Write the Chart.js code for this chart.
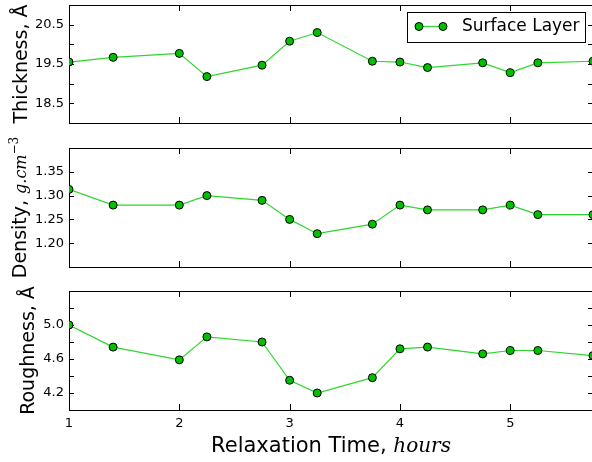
<!DOCTYPE html>
<html>
<head>
<meta charset="utf-8">
<script src="https://cdn.jsdelivr.net/npm/chart.js@4.4.1/dist/chart.umd.min.js"></script>
<style>
  html, body { margin: 0; padding: 0; background: #fff; overflow: hidden; }
  #wrap { position: relative; width: 592px; height: 462px; overflow: hidden; }
  canvas { position: absolute; left: 0; top: 0; }
</style>
</head>
<body>
<div id="wrap">
  <canvas id="c1" width="600" height="462"></canvas>
  <canvas id="c2" width="600" height="462"></canvas>
  <canvas id="c3" width="600" height="462"></canvas>
</div>
<script>
// data
const times = [1, 1.4, 2, 2.25, 2.75, 3, 3.25, 3.75, 4, 4.25, 4.75, 5, 5.25, 5.75];
const thickness = [19.55, 19.67, 19.77, 19.18, 19.47, 20.08, 20.30, 19.57, 19.55, 19.41, 19.53, 19.28, 19.53, 19.57];
const density = [1.313, 1.28, 1.28, 1.30, 1.29, 1.25, 1.22, 1.24, 1.28, 1.27, 1.27, 1.28, 1.26, 1.26];
const roughness = [5.00, 4.74, 4.59, 4.86, 4.80, 4.35, 4.20, 4.38, 4.72, 4.74, 4.66, 4.70, 4.70, 4.64];

const xTicks = [1, 2, 3, 4, 5];
const thickTicks = [18, 18.5, 19, 19.5, 20, 20.5, 21];
const thickLabels = ['18.5', '19.5', '20.5'];
const densTicks = [1.15, 1.20, 1.25, 1.30, 1.35, 1.40];
const densLabels = ['1.20', '1.25', '1.30', '1.35'];
const roughTicks = [4.0, 4.2, 4.4, 4.6, 4.8, 5.0, 5.2, 5.4];
const roughLabels = ['4.2', '4.6', '5.0'];

const LINE = '#2fd62f';
const FILL = '#00c000';
const SANS = '"DejaVu Sans"';

function points(ys) {
  return times.map((t, i) => ({ x: t, y: ys[i] }));
}

// draws runs of text with different fonts, centred on (cx, cy)
function richText(ctx, parts, cx, cy, rotate) {
  ctx.save();
  ctx.translate(cx, cy);
  if (rotate) ctx.rotate(-Math.PI / 2);
  ctx.fillStyle = '#000';
  ctx.textBaseline = 'alphabetic';
  ctx.textAlign = 'left';
  let total = 0;
  parts.forEach(p => { ctx.font = p.font; total += ctx.measureText(p.text).width; });
  let x = -total / 2;
  parts.forEach(p => {
    ctx.font = p.font;
    ctx.fillText(p.text, x, -(p.rise || 0));
    x += ctx.measureText(p.text).width;
  });
  ctx.restore();
}

// matplotlib style frame: full box, ticks pointing inward
const frame = {
  id: 'frame',
  beforeDatasetsDraw(chart) {
    const { ctx, chartArea: a, scales: { x, y } } = chart;
    ctx.save();
    ctx.strokeStyle = '#000';
    ctx.lineWidth = 1;
    ctx.beginPath();
    xTicks.forEach(v => {
      const px = Math.round(x.getPixelForValue(v)) + 0.5;
      ctx.moveTo(px, a.top); ctx.lineTo(px, a.top + 6);
      ctx.moveTo(px, a.bottom); ctx.lineTo(px, a.bottom - 6);
    });
    y.ticks.forEach(t => {
      const py = Math.round(y.getPixelForValue(t.value)) + 0.5;
      ctx.moveTo(a.left, py); ctx.lineTo(a.left + 5, py);
      ctx.moveTo(a.right, py); ctx.lineTo(a.right - 5, py);
    });
    ctx.stroke();
    ctx.strokeRect(Math.round(a.left) + 0.5, Math.round(a.top) + 0.5,
      Math.round(a.right - a.left), Math.round(a.bottom - a.top));
    ctx.restore();
  },
  afterDraw(chart, args, opts) {
    const ctx = chart.ctx;
    const a = chart.chartArea;
    const mid = (a.top + a.bottom) / 2;
    richText(ctx, opts.ytitle, opts.ytitleX, mid, true);
    if (opts.xtitle) {
      richText(ctx, opts.xtitle, (a.left + a.right) / 2, 451.5, false);
    }
    if (opts.legend) {
      ctx.save();
      ctx.fillStyle = '#fff';
      ctx.strokeStyle = '#000';
      ctx.lineWidth = 1;
      ctx.fillRect(407.5, 12.5, 178, 30);
      ctx.strokeRect(407.5, 12.5, 178, 30);
      ctx.strokeStyle = LINE;
      ctx.lineWidth = 1.2;
      ctx.beginPath();
      ctx.moveTo(419, 26.5); ctx.lineTo(443, 26.5);
      ctx.stroke();
      [419, 443].forEach(cx => {
        ctx.beginPath();
        ctx.arc(cx, 26.5, 4, 0, Math.PI * 2);
        ctx.fillStyle = FILL;
        ctx.fill();
        ctx.strokeStyle = '#000';
        ctx.lineWidth = 1;
        ctx.stroke();
      });
      ctx.fillStyle = '#000';
      ctx.font = '17px ' + SANS;
      ctx.textBaseline = 'middle';
      ctx.fillText('Surface Layer', 462, 27);
      ctx.restore();
    }
  }
};

function zeroPad(s) {
  s.paddingTop = 0; s.paddingBottom = 0; s.paddingLeft = 0; s.paddingRight = 0;
}

function makePanel(id, ys, yopts, pad, frameOpts, showX) {
  return new Chart(document.getElementById(id), {
    type: 'scatter',
    data: {
      datasets: [{
        label: 'Surface Layer',
        data: points(ys),
        showLine: true,
        borderColor: LINE,
        borderWidth: 1.2,
        pointRadius: 4,
        pointHoverRadius: 4,
        pointBackgroundColor: FILL,
        pointBorderColor: '#000',
        pointBorderWidth: 1
      }]
    },
    options: {
      responsive: false,
      animation: false,
      devicePixelRatio: 1,
      events: [],
      layout: { padding: pad },
      plugins: { legend: { display: false }, tooltip: { enabled: false }, frame: frameOpts },
      scales: {
        x: {
          type: 'linear',
          min: 1,
          max: 5.75,
          grid: { display: false, drawTicks: false },
          border: { display: false },
          afterBuildTicks: s => { s.ticks = xTicks.map(v => ({ value: v })); },
          ticks: {
            display: showX,
            padding: 6,
            autoSkip: false,
            maxRotation: 0,
            color: '#000',
            font: { family: 'DejaVu Sans', size: 13 },
            callback: v => String(v)
          },
          afterFit: s => { s.height = showX ? 52 : 0; zeroPad(s); }
        },
        y: {
          min: yopts.min,
          max: yopts.max,
          grid: { display: false, drawTicks: false },
          border: { display: false },
          afterBuildTicks: s => { s.ticks = yopts.ticks.map(v => ({ value: v })); },
          ticks: {
            padding: 5,
            autoSkip: false,
            color: '#000',
            font: { family: 'DejaVu Sans', size: 13 },
            callback: v => {
              const s = v.toFixed(yopts.dec);
              return yopts.labels.includes(s) ? s : '';
            }
          },
          afterFit: s => { s.width = 69; zeroPad(s); }
        }
      }
    },
    plugins: [frame]
  });
}

makePanel('c1', thickness,
  { min: 18, max: 21, ticks: thickTicks, dec: 1, labels: thickLabels },
  { left: 0, right: 7, top: 3, bottom: 339 },
  { ytitle: [{ text: 'Thickness, Å', font: '19px ' + SANS }], ytitleX: 27, legend: true },
  false);

makePanel('c2', density,
  { min: 1.15, max: 1.40, ticks: densTicks, dec: 2, labels: densLabels },
  { left: 0, right: 7, top: 148, bottom: 195 },
  { ytitle: [
      { text: 'Density, ', font: '19px ' + SANS },
      { text: 'g.cm', font: 'italic 16px "DejaVu Serif"' },
      { text: '\u22123', font: '12px "DejaVu Serif"', rise: 8 }
    ], ytitleX: 26 },
  false);

makePanel('c3', roughness,
  { min: 4.0, max: 5.4, ticks: roughTicks, dec: 1, labels: roughLabels },
  { left: 0, right: 7, top: 291, bottom: 0 },
  { ytitle: [{ text: 'Roughness, Å', font: '19px ' + SANS }], ytitleX: 34,
    xtitle: [
      { text: 'Relaxation Time, ', font: '21px ' + SANS },
      { text: 'hours', font: 'italic 20px "DejaVu Serif"' }
    ] },
  true);
</script>
</body>
</html>
